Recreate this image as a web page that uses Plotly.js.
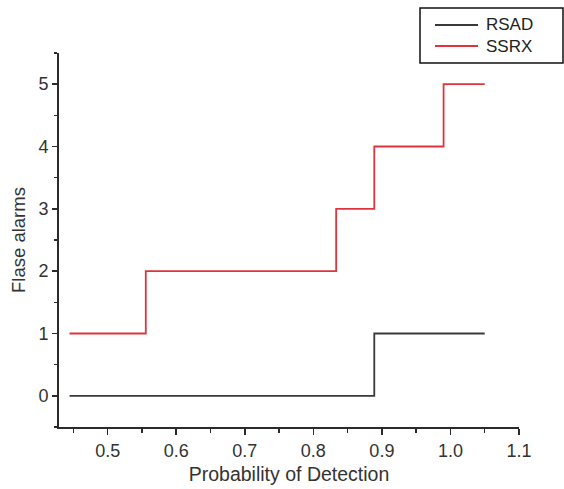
<!DOCTYPE html>
<html>
<head>
<meta charset="utf-8">
<script src="https://cdn.plot.ly/plotly-3.0.1.min.js"></script>
<style>html,body{margin:0;padding:0;background:#fff;}#chart{width:564px;height:489px;}</style>
</head>
<body>
<div id="chart"></div>
<script>
// Data
const rsadX = [0.4444, 0.8889, 1.05];
const rsadY = [0, 1, 1];
const ssrxX = [0.4444, 0.5556, 0.8333, 0.8889, 0.99, 1.05];
const ssrxY = [1, 2, 3, 4, 5, 5];
const seriesNames = ['RSAD', 'SSRX'];
const seriesColors = ['#3a3a3a', '#e0333d'];
const xTickVals = [0.5, 0.6, 0.7, 0.8, 0.9, 1.0, 1.1];
const xTickText = ['0.5', '0.6', '0.7', '0.8', '0.9', '1.0', '1.1'];
const yTickVals = [0, 1, 2, 3, 4, 5];

const FONT = 'Liberation Sans, Arial, sans-serif';
const AX = '#2b2b2b';
const W = 564, H = 489;
const M = {l: 59, r: 45, t: 53, b: 62};
const PW = W - M.l - M.r, PH = H - M.t - M.b;
// pixel -> paper helpers for the legend box (styling only)
const px = v => (v - M.l) / PW;
const py = v => (H - M.b - v) / PH;

const traces = [
  {x: rsadX, y: rsadY, name: seriesNames[0], mode: 'lines', line: {shape: 'hv', color: seriesColors[0], width: 1.8}},
  {x: ssrxX, y: ssrxY, name: seriesNames[1], mode: 'lines', line: {shape: 'hv', color: seriesColors[1], width: 1.8}}
];

// legend drawn inside a framed box
const legLineRows = [25, 46];
const shapes = [
  {type: 'rect', xref: 'paper', yref: 'paper', x0: px(420), x1: px(563), y0: py(63), y1: py(8),
   line: {color: '#111', width: 1.5}, fillcolor: 'rgba(0,0,0,0)'}
];
seriesNames.forEach((n, i) => {
  shapes.push({type: 'line', xref: 'paper', yref: 'paper', x0: px(435), x1: px(478),
    y0: py(legLineRows[i]), y1: py(legLineRows[i]),
    line: {color: seriesColors[i], width: 1.8}});
});
const annotations = [{
  xref: 'paper', yref: 'paper', x: px(484), y: py(35.5),
  xanchor: 'left', yanchor: 'middle', align: 'left', showarrow: false,
  text: seriesNames.join('<br>'),
  font: {family: FONT, size: 17, color: '#222'}
}];

const layout = {
  width: W, height: H,
  margin: M,
  paper_bgcolor: '#fff', plot_bgcolor: '#fff',
  font: {family: FONT, size: 18, color: '#333'},
  showlegend: false,
  shapes: shapes,
  annotations: annotations,
  xaxis: {
    range: [0.429, 1.1], showgrid: false, zeroline: false,
    showline: true, linecolor: AX, linewidth: 2,
    ticks: 'outside', ticklen: 6, tickwidth: 1.5, tickcolor: AX,
    tickvals: xTickVals, ticktext: xTickText,
    minor: {dtick: 0.05, tick0: 0, ticks: 'outside', ticklen: 4, tickwidth: 1.5, tickcolor: AX, showgrid: false},
    tickfont: {size: 18, color: '#333'},
    title: {text: 'Probability of Detection', font: {size: 19.5, color: '#333'}, standoff: 8}
  },
  yaxis: {
    range: [-0.5, 5.5], showgrid: false, zeroline: false,
    showline: true, linecolor: AX, linewidth: 2,
    ticks: 'outside', ticklen: 5, tickwidth: 1.5, tickcolor: AX,
    tickvals: yTickVals,
    minor: {dtick: 0.5, tick0: 0, ticks: 'outside', ticklen: 3, tickwidth: 1.5, tickcolor: AX, showgrid: false},
    tickfont: {size: 18, color: '#333'},
    title: {text: 'Flase alarms', font: {size: 18.5, color: '#333'}, standoff: 8}
  }
};

Plotly.newPlot('chart', traces, layout, {displayModeBar: false, staticPlot: true});
</script>
</body>
</html>
